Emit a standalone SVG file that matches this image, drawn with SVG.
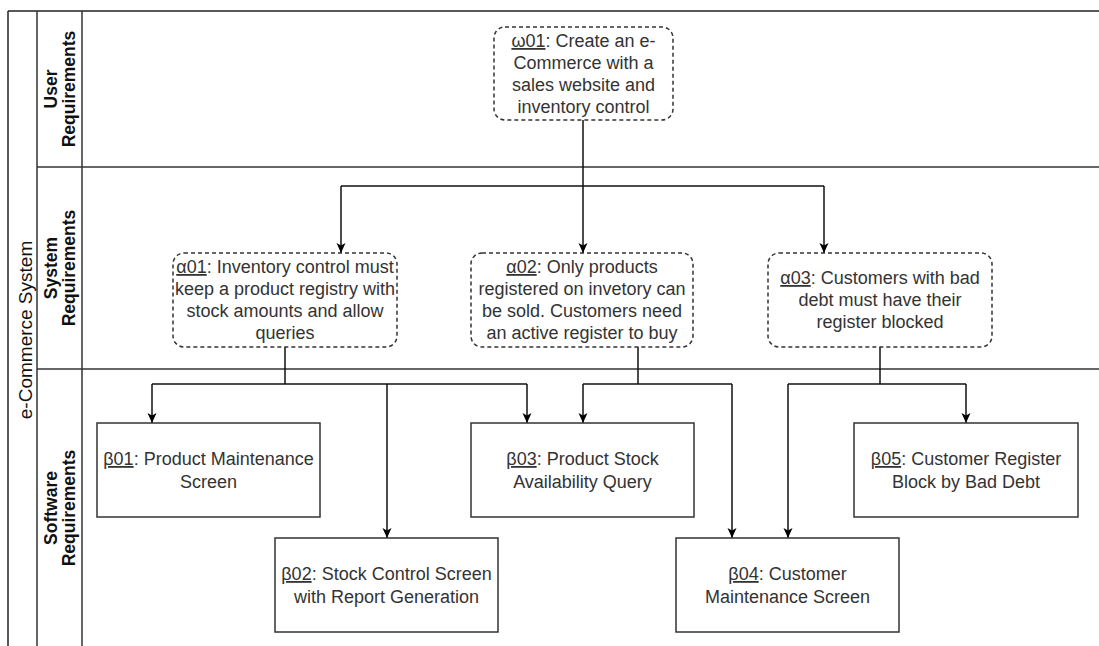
<svg xmlns="http://www.w3.org/2000/svg" width="1099" height="646" viewBox="0 0 1099 646">
  <defs>
    <marker id="arr" viewBox="0 0 10 10" refX="10" refY="5" markerWidth="10" markerHeight="10" markerUnits="userSpaceOnUse" orient="auto">
      <path d="M0,0.5 L10,5 L0,9.5 L2.5,5 z" fill="#000"/>
    </marker>
  </defs>
  <style>
    .pool { stroke: #222; stroke-width: 1.5; fill: none; }
    .lane { stroke: #333; stroke-width: 1.5; fill: none; }
    .dash { fill: #fff; stroke: #333; stroke-width: 1.5; stroke-dasharray: 4 3; }
    .box { fill: #fff; stroke: #333; stroke-width: 1.5; }
    .t { font-family: "Liberation Sans", Arial, sans-serif; font-size: 18px; fill: #333; text-anchor: middle; }
    .u { text-decoration: underline; }
    .lt { font-family: "Liberation Sans", Arial, sans-serif; font-size: 17.5px; font-weight: bold; fill: #111; text-anchor: middle; }
    .pt { font-family: "Liberation Sans", Arial, sans-serif; font-size: 19px; fill: #111; text-anchor: middle; }
    .c { stroke: #111; stroke-width: 1.5; fill: none; }
  </style>
  <rect width="1099" height="646" fill="#fff"/>

  <g id="pool">
    <line class="pool" x1="8" y1="11" x2="1099" y2="11"/>
    <line class="pool" x1="8" y1="11" x2="8" y2="646"/>
    <line class="lane" x1="37" y1="11" x2="37" y2="646"/>
    <line class="lane" x1="82" y1="11" x2="82" y2="646"/>
    <line class="lane" x1="37" y1="167" x2="1099" y2="167"/>
    <line class="lane" x1="37" y1="369" x2="1099" y2="369"/>
    <text class="pt" transform="translate(32,330) rotate(-90)">e-Commerce System</text>
  </g>
  <g id="lane-user">
    <text class="lt" transform="translate(57,89) rotate(-90)">User</text>
    <text class="lt" transform="translate(75,89) rotate(-90)">Requirements</text>
  </g>
  <g id="lane-system">
    <text class="lt" transform="translate(57,268) rotate(-90)">System</text>
    <text class="lt" transform="translate(75,268) rotate(-90)">Requirements</text>
  </g>
  <g id="lane-software">
    <text class="lt" transform="translate(57,508) rotate(-90)">Software</text>
    <text class="lt" transform="translate(75,508) rotate(-90)">Requirements</text>
  </g>

  <g id="connectors">
    <path class="c" d="M583,120 V186"/>
    <path class="c" d="M341,186 H824"/>
    <path class="c" d="M341,186 V253" marker-end="url(#arr)"/>
    <path class="c" d="M583,186 V253" marker-end="url(#arr)"/>
    <path class="c" d="M824,186 V253" marker-end="url(#arr)"/>

    <path class="c" d="M285,347 V384"/>
    <path class="c" d="M152,384 H527"/>
    <path class="c" d="M152,384 V423" marker-end="url(#arr)"/>
    <path class="c" d="M387,384 V538" marker-end="url(#arr)"/>
    <path class="c" d="M527,384 V423" marker-end="url(#arr)"/>

    <path class="c" d="M638,347 V384"/>
    <path class="c" d="M583,384 H732"/>
    <path class="c" d="M583,384 V423" marker-end="url(#arr)"/>
    <path class="c" d="M732,384 V538" marker-end="url(#arr)"/>

    <path class="c" d="M880,347 V384"/>
    <path class="c" d="M788,384 H966"/>
    <path class="c" d="M788,384 V538" marker-end="url(#arr)"/>
    <path class="c" d="M966,384 V423" marker-end="url(#arr)"/>
  </g>

  <g id="w01">
    <rect class="dash" x="494" y="27" width="179" height="93" rx="11"/>
    <text class="t" x="583.5" y="47"><tspan class="u">ω01</tspan>: Create an e-</text>
    <text class="t" x="583.5" y="69">Commerce with a</text>
    <text class="t" x="583.5" y="91">sales website and</text>
    <text class="t" x="583.5" y="113">inventory control</text>
  </g>

  <g id="a01">
    <rect class="dash" x="173" y="253" width="224" height="94" rx="11"/>
    <text class="t" x="285" y="273"><tspan class="u">α01</tspan>: Inventory control must</text>
    <text class="t" x="285" y="295">keep a product registry with</text>
    <text class="t" x="285" y="317">stock amounts and allow</text>
    <text class="t" x="285" y="339">queries</text>
  </g>

  <g id="a02">
    <rect class="dash" x="471" y="253" width="222" height="94" rx="11"/>
    <text class="t" x="582" y="273"><tspan class="u">α02</tspan>: Only products</text>
    <text class="t" x="582" y="295">registered on invetory can</text>
    <text class="t" x="582" y="317">be sold. Customers need</text>
    <text class="t" x="582" y="339">an active register to buy</text>
  </g>

  <g id="a03">
    <rect class="dash" x="768" y="253" width="224" height="94" rx="11"/>
    <text class="t" x="880" y="284"><tspan class="u">α03</tspan>: Customers with bad</text>
    <text class="t" x="880" y="306">debt must have their</text>
    <text class="t" x="880" y="328">register blocked</text>
  </g>

  <g id="b01">
    <rect class="box" x="97" y="423" width="223" height="94"/>
    <text class="t" x="208.5" y="465"><tspan class="u">β01</tspan>: Product Maintenance</text>
    <text class="t" x="208.5" y="488">Screen</text>
  </g>

  <g id="b02">
    <rect class="box" x="275" y="538" width="223" height="94"/>
    <text class="t" x="386.5" y="580"><tspan class="u">β02</tspan>: Stock Control Screen</text>
    <text class="t" x="386.5" y="603">with Report Generation</text>
  </g>

  <g id="b03">
    <rect class="box" x="471" y="423" width="223" height="94"/>
    <text class="t" x="582.5" y="465"><tspan class="u">β03</tspan>: Product Stock</text>
    <text class="t" x="582.5" y="488">Availability Query</text>
  </g>

  <g id="b04">
    <rect class="box" x="676" y="538" width="223" height="94"/>
    <text class="t" x="787.5" y="580"><tspan class="u">β04</tspan>: Customer</text>
    <text class="t" x="787.5" y="603">Maintenance Screen</text>
  </g>

  <g id="b05">
    <rect class="box" x="854" y="423" width="224" height="94"/>
    <text class="t" x="966" y="465"><tspan class="u">β05</tspan>: Customer Register</text>
    <text class="t" x="966" y="488">Block by Bad Debt</text>
  </g>
</svg>
